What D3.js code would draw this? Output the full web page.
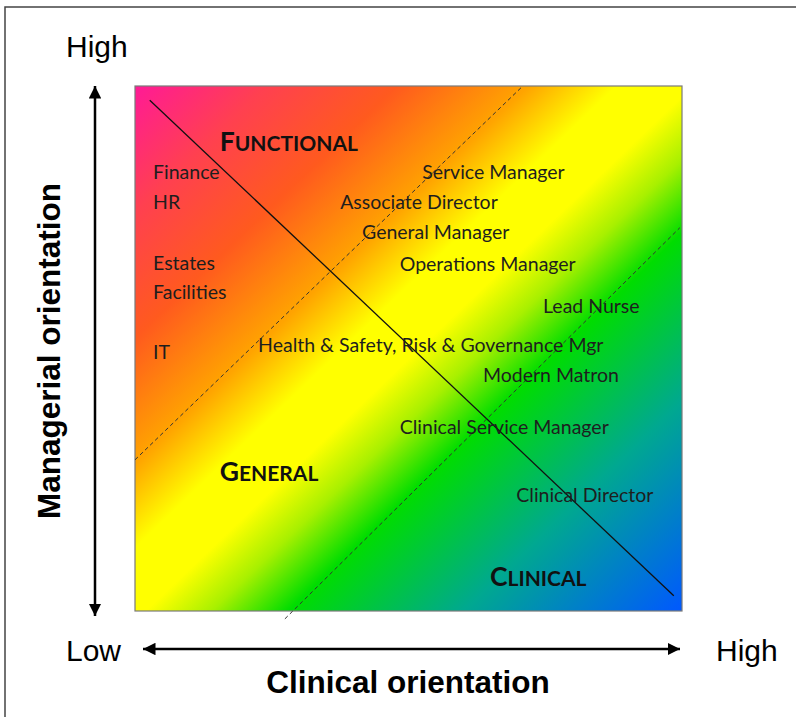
<!DOCTYPE html>
<html>
<head>
<meta charset="utf-8">
<script src="https://cdn.jsdelivr.net/npm/d3@7"></script>
<style>
  body { margin: 0; background: #fff; }
  svg { display: block; }
  .role { font-family: Lato, "Open Sans", sans-serif; font-size: 19.5px; fill: #1e1e1e; }
  .zone { font-family: Lato, "Open Sans", sans-serif; font-weight: bold; fill: #111; }
  .axis-text { font-family: "Liberation Sans", Arial, sans-serif; fill: #000; }
</style>
</head>
<body>
<div id="chart"></div>
<script>
// Role labels: clinical score (x) and managerial score (y), 0-100
const roles = ["Finance", "HR", "Estates", "Facilities", "IT",
  "Service Manager", "Associate Director", "General Manager", "Operations Manager",
  "Lead Nurse", "Health & Safety, Risk & Governance Mgr", "Modern Matron",
  "Clinical Service Manager", "Clinical Director"];
const roleClinical = [3.3, 3.3, 3.3, 3.3, 3.3, 52.5, 37.5, 41.5, 48.4, 74.6, 22.5, 63.6, 48.4, 69.7];
const roleManagerial = [83.6, 77.9, 66.3, 60.8, 49.3, 83.6, 77.9, 72.2, 66.0, 58.0, 50.7, 45.0, 35.0, 22.1];

// Zone titles (first letter bigger, small caps)
const zones = ["FUNCTIONAL", "GENERAL", "CLINICAL"];
const zoneClinical = [15.5, 15.5, 64.9];
const zoneManagerial = [89.3, 26.5, 6.5];

// Divider lines [x1, y1, x2, y2] in scores
const solidLine = [2.7, 97.3, 98.5, 2.9];
const dashedLines = [[0, 28.8, 70.9, 100], [27.4, -1.5, 99.6, 73.0]];

// Gradient from top-left to bottom-right
const gradOffsets = [0, 0.12, 0.24, 0.36, 0.44, 0.51, 0.57, 0.64, 0.8, 1];
const gradColors = ["#ff1a96", "#ff4050", "#ff5a1e", "#ffa400", "#ffff00", "#ffff00", "#a8f000", "#00dd00", "#00a890", "#0058ff"];

const width = 796, height = 717;
const box = { left: 135, top: 86, right: 682, bottom: 611 };

const svg = d3.select("#chart").append("svg")
    .attr("width", width)
    .attr("height", height);

// outer frame (only top and left visible)
svg.append("rect")
    .attr("x", 5).attr("y", 7)
    .attr("width", 820).attr("height", 740)
    .attr("fill", "none")
    .attr("stroke", "#444")
    .attr("stroke-width", 1.5);

const x = d3.scaleLinear().domain([0, 100]).range([box.left, box.right]);
const y = d3.scaleLinear().domain([0, 100]).range([box.bottom, box.top]);

const defs = svg.append("defs");
const grad = defs.append("linearGradient")
    .attr("id", "bg")
    .attr("x1", 0).attr("y1", 0).attr("x2", 1).attr("y2", 1);
grad.selectAll("stop")
    .data(gradOffsets)
    .enter().append("stop")
    .attr("offset", d => d)
    .attr("stop-color", (d, i) => gradColors[i]);

svg.append("rect")
    .attr("x", x(0)).attr("y", y(100))
    .attr("width", x(100) - x(0))
    .attr("height", y(0) - y(100))
    .attr("fill", "url(#bg)")
    .attr("stroke", "#7a7a7a")
    .attr("stroke-width", 1.2);

// solid divider
svg.append("line")
    .attr("x1", x(solidLine[0])).attr("y1", y(solidLine[1]))
    .attr("x2", x(solidLine[2])).attr("y2", y(solidLine[3]))
    .attr("stroke", "#111")
    .attr("stroke-width", 1.3);

// dashed dividers
svg.selectAll(".dash")
    .data(dashedLines)
    .enter().append("line")
    .attr("class", "dash")
    .attr("x1", d => x(d[0])).attr("y1", d => y(d[1]))
    .attr("x2", d => x(d[2])).attr("y2", d => y(d[3]))
    .attr("stroke", "#333")
    .attr("stroke-width", 1)
    .attr("stroke-dasharray", "4,3");

// role labels
svg.selectAll(".role")
    .data(roles)
    .enter().append("text")
    .attr("class", "role")
    .attr("x", (d, i) => x(roleClinical[i]))
    .attr("y", (d, i) => y(roleManagerial[i]))
    .attr("dy", "0.35em")
    .text(d => d);

// zone titles in small caps style
const zt = svg.selectAll(".zone")
    .data(zones)
    .enter().append("text")
    .attr("class", "zone")
    .attr("x", (d, i) => x(zoneClinical[i]))
    .attr("y", (d, i) => y(zoneManagerial[i]))
    .attr("dy", 9);
zt.append("tspan").style("font-size", "26.5px").text(d => d[0]);
zt.append("tspan").style("font-size", "21px").text(d => d.slice(1));

// arrows
const arrow = defs.append("marker")
    .attr("id", "head")
    .attr("viewBox", "0 0 10 10")
    .attr("refX", 10).attr("refY", 5)
    .attr("markerWidth", 5).attr("markerHeight", 5)
    .attr("markerUnits", "strokeWidth")
    .attr("orient", "auto-start-reverse");
arrow.append("path").attr("d", "M0,0 L10,5 L0,10 Z").attr("fill", "#000");

svg.append("line")
    .attr("x1", 95).attr("y1", y(100))
    .attr("x2", 95).attr("y2", 616)
    .attr("stroke", "#000").attr("stroke-width", 2.5)
    .attr("marker-start", "url(#head)")
    .attr("marker-end", "url(#head)");

svg.append("line")
    .attr("x1", 143).attr("y1", 649)
    .attr("x2", 680).attr("y2", 649)
    .attr("stroke", "#000").attr("stroke-width", 2.5)
    .attr("marker-start", "url(#head)")
    .attr("marker-end", "url(#head)");

// axis end labels
svg.append("text").attr("class", "axis-text")
    .attr("x", 66).attr("y", 57).style("font-size", "30px").text("High");
svg.append("text").attr("class", "axis-text")
    .attr("x", 66).attr("y", 661).style("font-size", "30px").text("Low");
svg.append("text").attr("class", "axis-text")
    .attr("x", 716).attr("y", 661).style("font-size", "30px").text("High");

// axis titles
svg.append("text").attr("class", "axis-text")
    .attr("transform", "translate(60,351) rotate(-90)")
    .style("text-anchor", "middle")
    .style("font-size", "31.5px").style("font-weight", "bold")
    .text("Managerial orientation");

svg.append("text").attr("class", "axis-text")
    .attr("x", 408).attr("y", 693)
    .style("text-anchor", "middle")
    .style("font-size", "31.5px").style("font-weight", "bold")
    .text("Clinical orientation");
</script>
</body>
</html>
